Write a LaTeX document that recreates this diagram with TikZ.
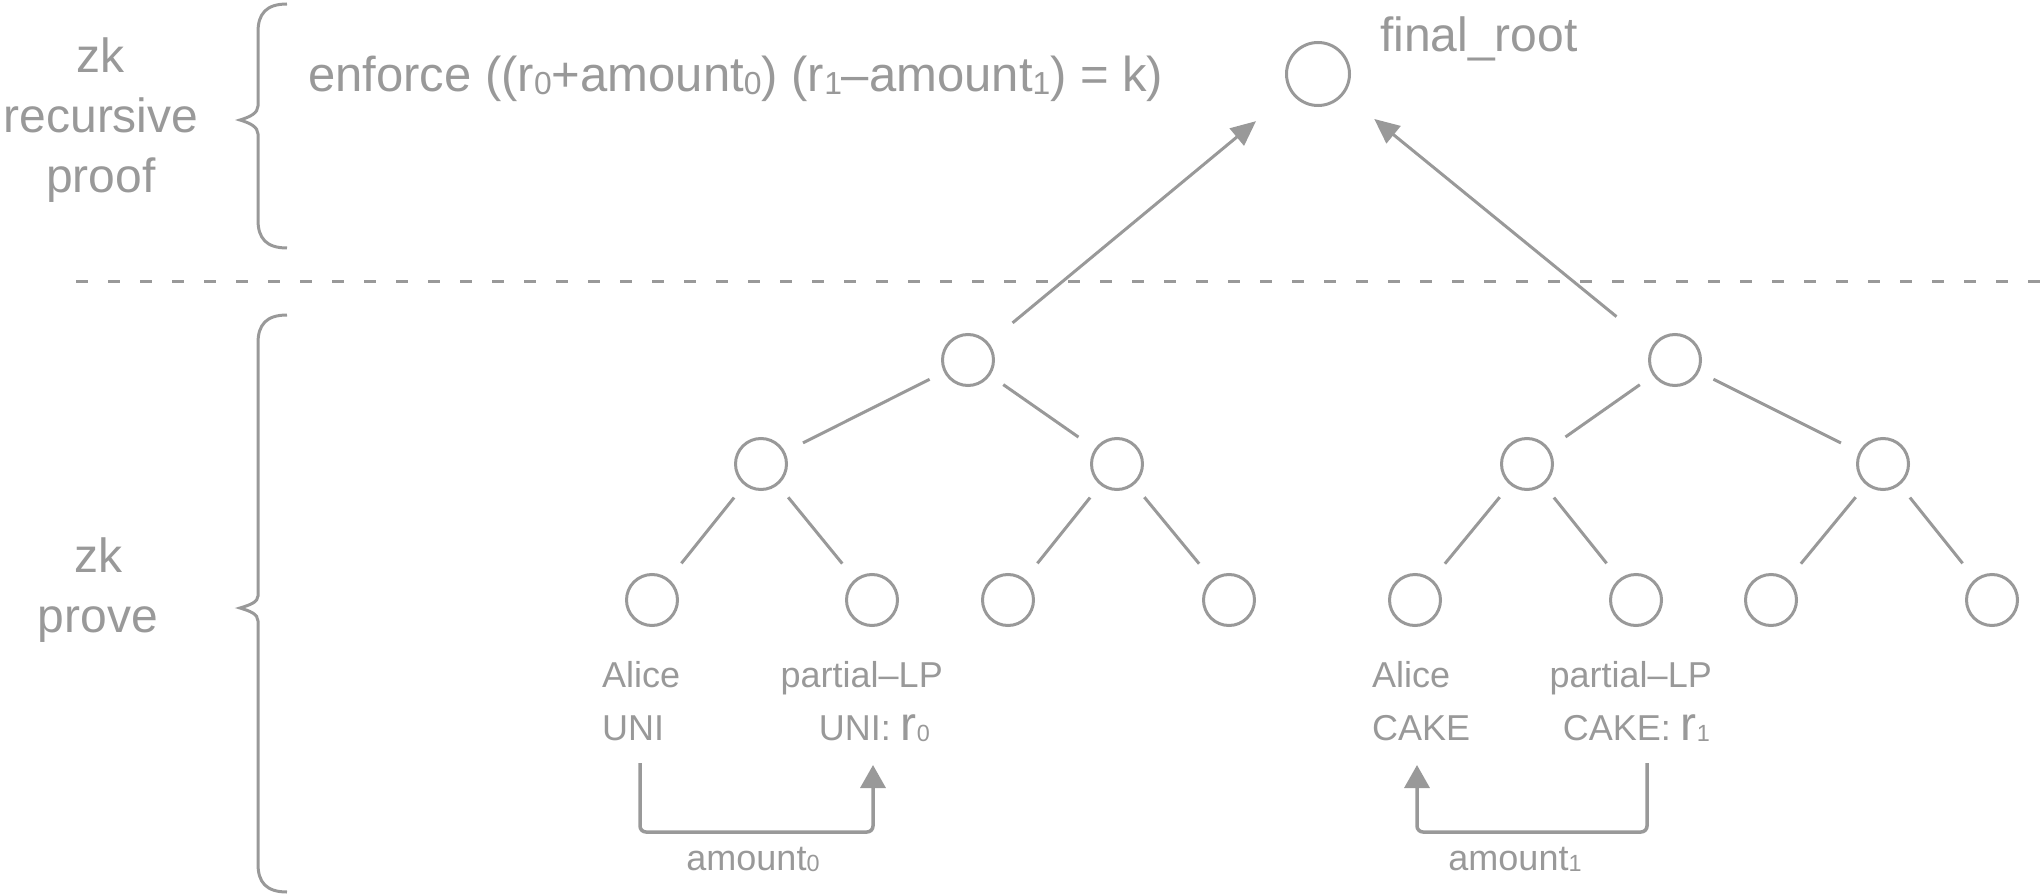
\documentclass[tikz,border=0pt]{standalone}
\usepackage{fontspec}
\setmainfont{Liberation Sans}
\usetikzlibrary{arrows.meta,positioning}
\definecolor{ink}{RGB}{153,153,153}
\tikzset{x=1pt,y=-1pt,
  hash/.style={circle,draw=ink,line width=3pt,minimum size=51pt,inner sep=0pt},
  link/.style={draw=ink,line width=3pt,shorten <=16pt,shorten >=20pt},
  up/.style={draw=ink,line width=3pt,-{Triangle[length=25pt,width=22pt]}},
  flow/.style={draw=ink,line width=3.5pt,rounded corners=6pt,-{Triangle[length=23pt,width=25pt]}},
  big/.style={text=ink,inner sep=0pt,font=\fontsize{48}{60}\selectfont},
  small/.style={text=ink,inner sep=0pt,font=\fontsize{36}{45}\selectfont}}
\newcommand{\reserve}{{\fontsize{48}{48}\selectfont r}}
\newcommand{\ix}[1]{\raisebox{-0.1ex}{\scalebox{0.65}{#1}}}

\begin{document}
\begin{tikzpicture}
	\useasboundingbox (0,0) rectangle (2040,896);
	% left side
	\node[big,align=center] (recproof) at (101,120) {zk\\recursive\\proof};
	\node[big,align=center] (prove)    at (98,590)  {zk\\prove};
	\draw[ink,line width=3pt] (287,4) .. controls (266,4) and (258,14) .. (258,32) -- (258,106)
		.. controls (258,113) and (250,117) .. (240,120) .. controls (250,123) and (258,127) .. (258,134)
		-- (258,220) .. controls (258,238) and (266,248) .. (287,248);
	\draw[ink,line width=3pt] (287,315) .. controls (266,315) and (258,325) .. (258,343) -- (258,596)
		.. controls (258,602) and (250,605) .. (240,608) .. controls (250,611) and (258,614) .. (258,621)
		-- (258,864) .. controls (258,882) and (266,892) .. (287,892);
	\draw[ink,line width=3pt,dash pattern=on 12pt off 20pt] (76,281) -- (2040,281);
	\node[big,font=\fontsize{49}{60}\selectfont,anchor=base west] (enforce) at (308,92)
		{enforce ((r\ix{0}+amount\ix{0}) (r\ix{1}--amount\ix{1}) = k)};

	% root and trees
	\node[hash,minimum size=63pt] (root) at (1318,74) {};
	\node[big,anchor=base west] (rootname) at (1380,52) {final\_root};
	\node[hash] (n0)  at (968,360)  {};
	\node[hash] (n1)  at (1675,360) {};
	\node[hash] (n00) at (761,464)  {};
	\node[hash] (n01) at (1117,464) {};
	\node[hash] (n10) at (1527,464) {};
	\node[hash] (n11) at (1883,464) {};
	\foreach \x/\n in {652/n000,872/n001,1008/n010,1229/n011,1415/n100,1636/n101,1771/n110,1992/n111}
		\node[hash] (\n) at (\x,600) {};
	\path
		(n0)  edge[link] (n00)  (n0)  edge[link] (n01)
		(n1)  edge[link] (n10)  (n1)  edge[link] (n11)
		(n00) edge[link] (n000) (n00) edge[link] (n001)
		(n01) edge[link] (n010) (n01) edge[link] (n011)
		(n10) edge[link] (n100) (n10) edge[link] (n101)
		(n11) edge[link] (n110) (n11) edge[link] (n111);
	\draw[up,shorten <=31pt,shorten >=45pt] (n0.40) -- (root.214);
	\draw[up,shorten <=46pt,shorten >=39pt] (n1.148) -- (root.322);

	% leaf labels
	\node[small,anchor=base west] (alice0) at (602,687)  {Alice};
	\node[small,anchor=base west] (uni)    at (602,740)  {UNI};
	\node[small,anchor=base east] (lp0)    at (943,687)  {partial--LP};
	\node[small,anchor=base east] (res0)   at (930,740)  {UNI: \reserve\ix{0}};
	\node[small,anchor=base west] (alice1) at (1372,687) {Alice};
	\node[small,anchor=base west] (cake)   at (1372,740) {CAKE};
	\node[small,anchor=base east] (lp1)    at (1712,687) {partial--LP};
	\node[small,anchor=base east] (res1)   at (1710,740) {CAKE: \reserve\ix{1}};

	% swaps
	\coordinate (out0) at (640,763);
	\coordinate (in0)  at (873,765);
	\coordinate (out1) at (1647,763);
	\coordinate (in1)  at (1417,765);
	\draw[flow] (out0) -- ++(0,69) -| (in0);
	\draw[flow] (out1) -- ++(0,69) -| (in1);
	\node[small,anchor=base] (amt0) at (753,870)  {amount\ix{0}};
	\node[small,anchor=base] (amt1) at (1515,870) {amount\ix{1}};
\end{tikzpicture}
\end{document}
